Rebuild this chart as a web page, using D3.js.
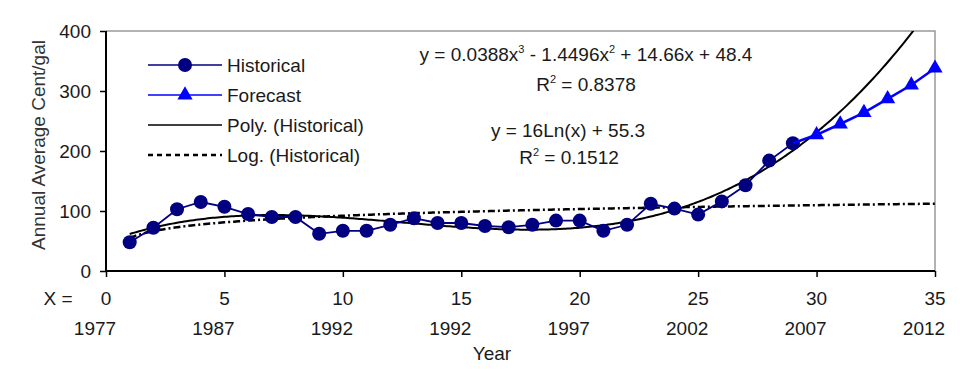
<!DOCTYPE html>
<html>
<head>
<meta charset="utf-8">
<script src="https://cdn.jsdelivr.net/npm/d3@7"></script>
<style>
  body { margin: 0; background: #fff; }
  svg { display: block; font-family: "Liberation Sans", Arial, sans-serif; }
</style>
</head>
<body>
<svg id="chart" width="960" height="374"></svg>
<script>
// data
const histX = d3.range(1, 30);
const histY = [48, 72, 103, 115, 107, 95, 90, 90, 62, 67, 67, 77, 88, 80, 80, 75, 73, 77, 84, 84, 67, 77, 112, 104, 94, 116, 143, 184, 213];
const foreX = [29, 30, 31, 32, 33, 34, 35];
const foreY = [213, 227, 245, 264, 287, 310, 338];
const xTicks = [0, 5, 10, 15, 20, 25, 30, 35];
const yearLabels = ["1977", "1987", "1992", "1992", "1997", "2002", "2007", "2012"];
const yTicks = [0, 100, 200, 300, 400];
const polyCoef = [0.0388, -1.4496, 14.66, 48.4];
const logCoef = [16, 55.3];

const svg = d3.select("#chart");
const margin = { left: 106, right: 25, top: 31, bottom: 103 };
const width = 960, height = 374;

const x = d3.scaleLinear().domain([0, 35]).range([margin.left, width - margin.right]);
const y = d3.scaleLinear().domain([0, 400]).range([height - margin.bottom, margin.top]);

const textCol = "#1a1a1a";
const fs = 19;

function label(parent, tx, ty, str, anchor) {
  return parent.append("text")
    .attr("x", tx).attr("y", ty)
    .attr("text-anchor", anchor || "start")
    .attr("font-size", fs)
    .attr("fill", textCol)
    .text(str);
}

svg.append("defs").append("clipPath")
  .attr("id", "plotClip")
  .append("rect")
  .attr("x", x(0)).attr("y", y(400))
  .attr("width", x(35) - x(0)).attr("height", y(0) - y(400));

// frame (top/right gray)
svg.append("path")
  .attr("d", `M${x(0)},${y(400)}H${x(35)}V${y(0)}`)
  .attr("fill", "none")
  .attr("stroke", "#999")
  .attr("stroke-width", 1.5);

// axes
const yAxis = svg.append("g").attr("transform", `translate(${x(0)},0)`)
  .call(d3.axisLeft(y).tickValues(yTicks).tickSize(6).tickFormat(""));
const xAxis = svg.append("g").attr("transform", `translate(0,${y(0)})`)
  .call(d3.axisBottom(x).tickValues(xTicks).tickSize(6).tickFormat(""));
[xAxis, yAxis].forEach(a => {
  a.select(".domain").attr("stroke", "#000").attr("stroke-width", 2);
  a.selectAll(".tick line").attr("stroke", "#000").attr("stroke-width", 1.5);
});
xAxis.select(".domain").attr("d", `M${x(0)},0H${x(35)}`);
yAxis.select(".domain").attr("d", `M0,${y(0)}V${y(400)}`);

yTicks.forEach(t => label(svg, x(0) - 15, y(t) + 7, t, "end"));
xTicks.forEach((t, i) => {
  label(svg, x(t), 305, t, "middle");
  label(svg, x(t) - 11, 335, yearLabels[i], "middle");
});
label(svg, 58, 305, "X =", "middle");
label(svg, 492, 360, "Year", "middle");
svg.append("text")
  .attr("transform", `translate(45,${(y(0) + y(400)) / 2 - 6}) rotate(-90)`)
  .attr("text-anchor", "middle")
  .attr("font-size", fs)
  .attr("fill", "#333")
  .text("Annual Average Cent/gal");

const plot = svg.append("g").attr("clip-path", "url(#plotClip)");

// trend lines
const fine = d3.range(1, 35.01, 0.1);
const polyF = v => polyCoef[0] * v ** 3 + polyCoef[1] * v ** 2 + polyCoef[2] * v + polyCoef[3];
const logF = v => logCoef[0] * Math.log(v) + logCoef[1];
const line = d3.line().x(d => x(d[0])).y(d => y(d[1]));

plot.append("path")
  .attr("d", line(fine.map(v => [v, logF(v)])))
  .attr("fill", "none").attr("stroke", "#000")
  .attr("stroke-width", 2.5)
  .attr("stroke-dasharray", "7,3,2,3");

plot.append("path")
  .attr("d", line(fine.map(v => [v, polyF(v)])))
  .attr("fill", "none").attr("stroke", "#000")
  .attr("stroke-width", 2);

// historical series
const navy = "#000080", blue = "#0000ff";
plot.append("path")
  .attr("d", line(histX.map((v, i) => [v, histY[i]])))
  .attr("fill", "none").attr("stroke", navy).attr("stroke-width", 1.8);
plot.selectAll(".hist").data(histX).join("circle")
  .attr("class", "hist")
  .attr("cx", d => x(d)).attr("cy", (d, i) => y(histY[i]))
  .attr("r", 7).attr("fill", navy);

// forecast series
plot.append("path")
  .attr("d", line(foreX.map((v, i) => [v, foreY[i]])))
  .attr("fill", "none").attr("stroke", blue).attr("stroke-width", 2.5);
const tri = d3.symbol().type(d3.symbolTriangle).size(100);
svg.selectAll(".fore").data(foreX.slice(1)).join("path")
  .attr("class", "fore")
  .attr("transform", (d, i) => `translate(${x(d)},${y(foreY[i + 1])})`)
  .attr("d", tri).attr("fill", blue);

// legend
const legend = svg.append("g");
const rows = [
  { name: "Historical", col: navy, w: 1.5, mark: "circle" },
  { name: "Forecast", col: blue, w: 1.5, mark: "tri" },
  { name: "Poly. (Historical)", col: "#000", w: 1.5 },
  { name: "Log. (Historical)", col: "#000", w: 2.5, dash: "5,4" }
];
rows.forEach((r, i) => {
  const cy = 65 + i * 30;
  legend.append("line")
    .attr("x1", 148).attr("x2", 222).attr("y1", cy).attr("y2", cy)
    .attr("stroke", r.col).attr("stroke-width", r.w)
    .attr("stroke-dasharray", r.dash || null);
  if (r.mark === "circle") legend.append("circle").attr("cx", 185).attr("cy", cy).attr("r", 7).attr("fill", r.col);
  if (r.mark === "tri") legend.append("path").attr("transform", `translate(185,${cy})`).attr("d", tri).attr("fill", r.col);
  label(legend, 227, cy + 7, r.name, "start");
});

// equations; superscripts given as ["^", "3"]
function eq(cx, by, parts) {
  const t = svg.append("text")
    .attr("x", cx).attr("y", by)
    .attr("text-anchor", "middle")
    .attr("font-size", fs)
    .attr("fill", textCol);
  let back = 0;
  parts.forEach(p => {
    if (Array.isArray(p)) {
      t.append("tspan").attr("font-size", 11).attr("dy", -8).text(p[1]);
      back = 8;
    } else {
      t.append("tspan").attr("dy", back || null).text(p);
      back = 0;
    }
  });
}
eq(586, 61, ["y = 0.0388x", ["^", "3"], " - 1.4496x", ["^", "2"], " + 14.66x + 48.4"]);
eq(586, 91, ["R", ["^", "2"], " = 0.8378"]);
eq(568, 137, ["y = 16Ln(x) + 55.3"]);
eq(569, 164, ["R", ["^", "2"], " = 0.1512"]);
</script>
</body>
</html>
